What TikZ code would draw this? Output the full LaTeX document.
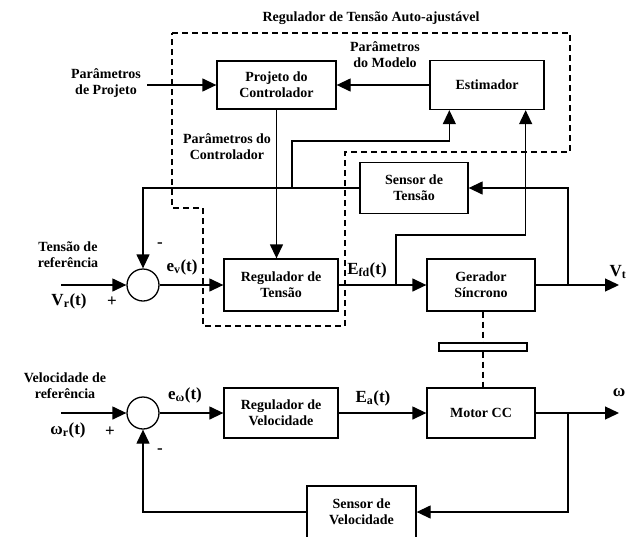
\documentclass[tikz,border=0pt]{standalone}
\usepackage{fontspec}
\setmainfont{Liberation Serif}
\usetikzlibrary{arrows.meta,positioning,calc}

\begin{document}
\begin{tikzpicture}[
  x=1pt, y=-1pt,
  line width=1.3pt,
  >={Triangle[length=14pt,width=13pt]},
  every node/.style={font=\fontsize{14}{16}\selectfont\bfseries,align=center},
  blockbox/.style={draw,fill=white,line width=1.3pt,inner sep=2pt},
  sumnode/.style={draw,circle,line width=1.3pt,minimum size=32pt,inner sep=0pt},
  siglabel/.style={font=\fontsize{17}{19}\selectfont\bfseries},
  adaptbox/.style={dash pattern=on 6pt off 4pt,line width=1.3pt},
]
  \path[use as bounding box,clip] (0,0) rectangle (637,536);

  % Title and self-tuning region
  \node (titulo) at (371,18) {Regulador de Tensão Auto-ajustável};
  \draw[adaptbox] (172,33) -- (570,33) -- (570,152) -- (345,152) -- (345,326)
    -- (203,326) -- (203,208) -- (172,208) -- cycle;

  % Blocks
  \node[blockbox,minimum width=119pt,minimum height=48pt] (projeto) at (276.5,85) {Projeto do\\Controlador};
  \node[blockbox,minimum width=114pt,minimum height=49pt] (estimador) at (487,85) {Estimador};
  \node[blockbox,minimum width=108pt,minimum height=51pt] (sensorT) at (414,188) {Sensor de\\Tensão};
  \node[blockbox,minimum width=114pt,minimum height=52pt] (regT) at (281,285) {Regulador de\\Tensão};
  \node[blockbox,minimum width=108pt,minimum height=52pt] (gerador) at (481,285) {Gerador\\Síncrono};
  \node[blockbox,minimum width=114pt,minimum height=50pt] (regV) at (281,413) {Regulador de\\Velocidade};
  \node[blockbox,minimum width=108pt,minimum height=50pt] (motor) at (481,413) {Motor CC};
  \node[blockbox,minimum width=109pt,minimum height=52pt] (sensorV) at (361.5,512) {Sensor de\\Velocidade};
  \node[sumnode] (somaT) at (143,285) {};
  \node[sumnode] (somaV) at (143,413) {};

  % Shaft and coupling
  \draw[adaptbox] ($(gerador.south)+(2,0)$) -- ($(motor.north)+(2,0)$);
  \node[draw,fill=white,line width=1.3pt,minimum width=88pt,minimum height=8pt,inner sep=0pt] (acopl) at (483,347) {};

  % Adaptive loop
  \coordinate (pin) at (147,85);
  \coordinate (brS) at (292,188);
  \coordinate (brE) at (396,285);
  \coordinate (estA) at ($(estimador.south west)+(20,0)$);
  \coordinate (estB) at ($(estimador.south east)+(-19,0)$);
  \draw[->] (pin) -- (projeto.west);
  \draw[->] (estimador) -- (projeto);
  \draw[->] (projeto.south) -- (projeto.south |- regT.north);
  \draw[->] (brS) -- ++(0,-47) -| (estA);
  \draw[->] (brE) -- ++(0,-50) -| (estB);

  % Voltage loop
  \coordinate (vin) at (61,285);
  \coordinate (vt) at (619,285);
  \coordinate (brV) at (568,285);
  \draw[->] (vin) -- (somaT);
  \draw[->] (somaT) -- (regT);
  \draw[->] (regT) -- (gerador);
  \draw[->] (gerador) -- (vt);
  \draw[->] (brV) |- (sensorT.east);
  \draw[->] (sensorT.west) -| (somaT.north);

  % Speed loop
  \coordinate (win) at (61,413);
  \coordinate (wout) at (619,413);
  \coordinate (brW) at (568,413);
  \draw[->] (win) -- (somaV);
  \draw[->] (somaV) -- (regV);
  \draw[->] (regV) -- (motor);
  \draw[->] (motor) -- (wout);
  \draw[->] (brW) |- (sensorV.east);
  \draw[->] (sensorV.west) -| (somaV.south);

  % Labels
  \node (lblPP) at (106,83) {Parâmetros\\de Projeto};
  \node (lblPM) at (385,55) {Parâmetros\\do Modelo};
  \node (lblPC) at (227,147) {Parâmetros do\\Controlador};
  \node (lblTR) at (68,255) {Tensão de\\referência};
  \node[siglabel] (lblVr) at (69,301) {V\textsubscript{r}(t)};
  \node[siglabel] (maisT) at (112,302) {+};
  \node[siglabel] (menosT) at (160,245) {-};
  \node[siglabel] (lblev) at (182,267) {e\textsubscript{v}(t)};
  \node[siglabel] (lblEfd) at (367,270) {E\textsubscript{fd}(t)};
  \node[siglabel] (lblVt) at (618,272) {V\textsubscript{t}};
  \node (lblVR) at (65,386) {Velocidade de\\referência};
  \node[siglabel] (lblwr) at (68,430) {ω\textsubscript{r}(t)};
  \node[siglabel] (maisV) at (110,432) {+};
  \node[siglabel] (menosV) at (160,451) {-};
  \node[siglabel] (lblew) at (185,395) {e\textsubscript{ω}(t)};
  \node[siglabel] (lblEa) at (373,398) {E\textsubscript{a}(t)};
  \node[siglabel] (lblw) at (619,393) {ω};
\end{tikzpicture}
\end{document}
